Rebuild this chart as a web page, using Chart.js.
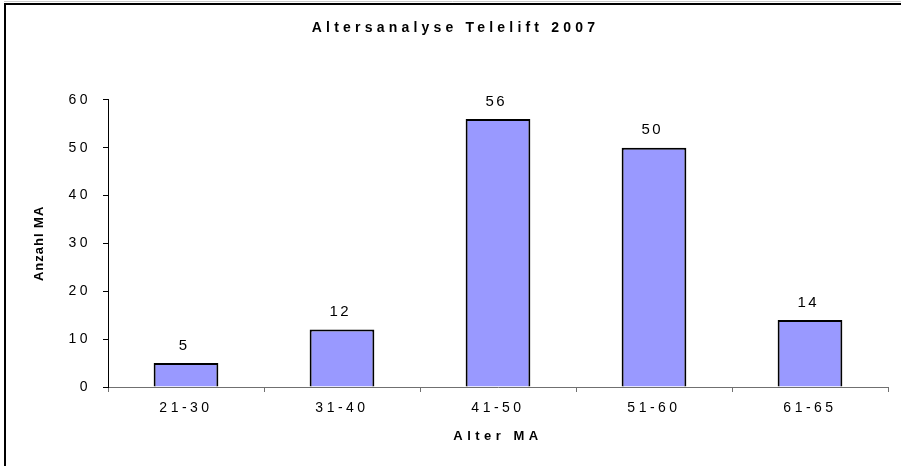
<!DOCTYPE html>
<html>
<head>
<meta charset="utf-8">
<script src="https://cdn.jsdelivr.net/npm/chart.js@4"></script>
<style>
    html, body { margin: 0; padding: 0; background: #fff; }
    #wrap { width: 901px; height: 466px; position: relative; }
</style>
</head>
<body>
<div id="wrap"><canvas id="altersChart" width="901" height="466"></canvas></div>
<script>
// chart data
const ageGroups = ['21-30', '31-40', '41-50', '51-60', '61-65'];
const employeeCount = [5, 12, 56, 50, 14];
const yTicks = [0, 10, 20, 30, 40, 50, 60];

const chartTitle = 'Altersanalyse Telelift 2007';
const xTitle = 'Alter MA';
const yTitle = 'Anzahl MA';

const FONT = '"Liberation Sans", Arial, sans-serif';
const TICK_SPACING = '3.5px';
const LABEL_SPACING = 2.5;

// run a draw function with its own letter spacing
function withSpacing(obj, name, spacing) {
    if (!obj || obj['_sp_' + name]) return;
    const orig = obj[name];
    obj[name] = function () {
        const c = this.ctx;
        const old = c.letterSpacing;
        c.letterSpacing = spacing;
        const res = orig.apply(this, arguments);
        c.letterSpacing = old;
        return res;
    };
    obj['_sp_' + name] = true;
}

// letter spacing like the old Excel export + chart frame
const spacingPlugin = {
    id: 'spacing',
    beforeUpdate: function (chart) { chart.ctx.letterSpacing = TICK_SPACING; },
    beforeDraw: function (chart) {
        const ctx = chart.ctx;
        ctx.letterSpacing = TICK_SPACING;
        withSpacing(chart.titleBlock, 'draw', '4.2px');
        withSpacing(chart.scales.x, 'drawTitle', '4.5px');
        withSpacing(chart.scales.y, 'drawTitle', '1px');

        // frame of the chart object (cropped on right and bottom)
        ctx.save();
        ctx.strokeStyle = '#c8c8c8';
        ctx.lineWidth = 1;
        ctx.beginPath();
        ctx.moveTo(4, 1.5);
        ctx.lineTo(chart.width, 1.5);
        ctx.stroke();
        ctx.strokeStyle = '#000';
        ctx.lineWidth = 2;
        ctx.beginPath();
        ctx.moveTo(5, chart.height);
        ctx.lineTo(5, 4);
        ctx.lineTo(chart.width, 4);
        ctx.stroke();
        ctx.restore();
    }
};

// value labels above each bar
const valueLabels = {
    id: 'valueLabels',
    afterDatasetsDraw: function (chart) {
        const ctx = chart.ctx;
        const meta = chart.getDatasetMeta(0);
        ctx.save();
        ctx.letterSpacing = LABEL_SPACING + 'px';
        ctx.font = '15px ' + FONT;
        ctx.fillStyle = '#000';
        ctx.textAlign = 'center';
        ctx.textBaseline = 'middle';
        meta.data.forEach(function (bar, i) {
            ctx.fillText(String(chart.data.datasets[0].data[i]), bar.x - 3 + LABEL_SPACING / 2, bar.y - 17.5);
        });
        ctx.restore();
    }
};

const ctx = document.getElementById('altersChart').getContext('2d');
const altersChart = new Chart(ctx, {
    type: 'bar',
    data: {
        labels: ageGroups,
        datasets: [{
            data: employeeCount,
            backgroundColor: '#9999ff',
            borderColor: '#000',
            borderWidth: 2,
            categoryPercentage: 1,
            barPercentage: 0.415
        }]
    },
    options: {
        responsive: false,
        animation: false,
        events: [],
        layout: { padding: { left: 23, right: 13, top: 0, bottom: 0 } },
        plugins: {
            legend: { display: false },
            tooltip: { enabled: false },
            title: {
                display: true,
                text: chartTitle,
                color: '#000',
                font: { family: FONT, size: 14, weight: 'bold' },
                padding: { top: 20, bottom: 63 }
            }
        },
        scales: {
            x: {
                afterFit: function (scale) { scale.height = 79; },
                grid: { drawOnChartArea: false, drawTicks: true, tickLength: 5, color: '#707070', offset: true },
                border: { display: true, color: '#707070', width: 1 },
                ticks: { color: '#000', padding: 8, font: { family: FONT, size: 14 } },
                title: {
                    display: true,
                    text: xTitle,
                    color: '#000',
                    font: { family: FONT, size: 13, weight: 'bold' },
                    padding: { top: 0, bottom: 22 }
                }
            },
            y: {
                min: 0,
                max: 60,
                afterFit: function (scale) { scale.width = 85; },
                afterBuildTicks: function (scale) {
                    scale.ticks = yTicks.map(function (v) { return { value: v }; });
                },
                grid: { drawOnChartArea: false, drawTicks: true, tickLength: 5, color: '#000' },
                border: { display: true, color: '#000', width: 1 },
                ticks: { color: '#000', padding: 12, font: { family: FONT, size: 14 } },
                title: {
                    display: true,
                    text: yTitle,
                    color: '#000',
                    font: { family: FONT, size: 13, weight: 'bold' },
                    padding: { top: 9, bottom: 0 }
                }
            }
        }
    },
    plugins: [spacingPlugin, valueLabels]
});
</script>
</body>
</html>
